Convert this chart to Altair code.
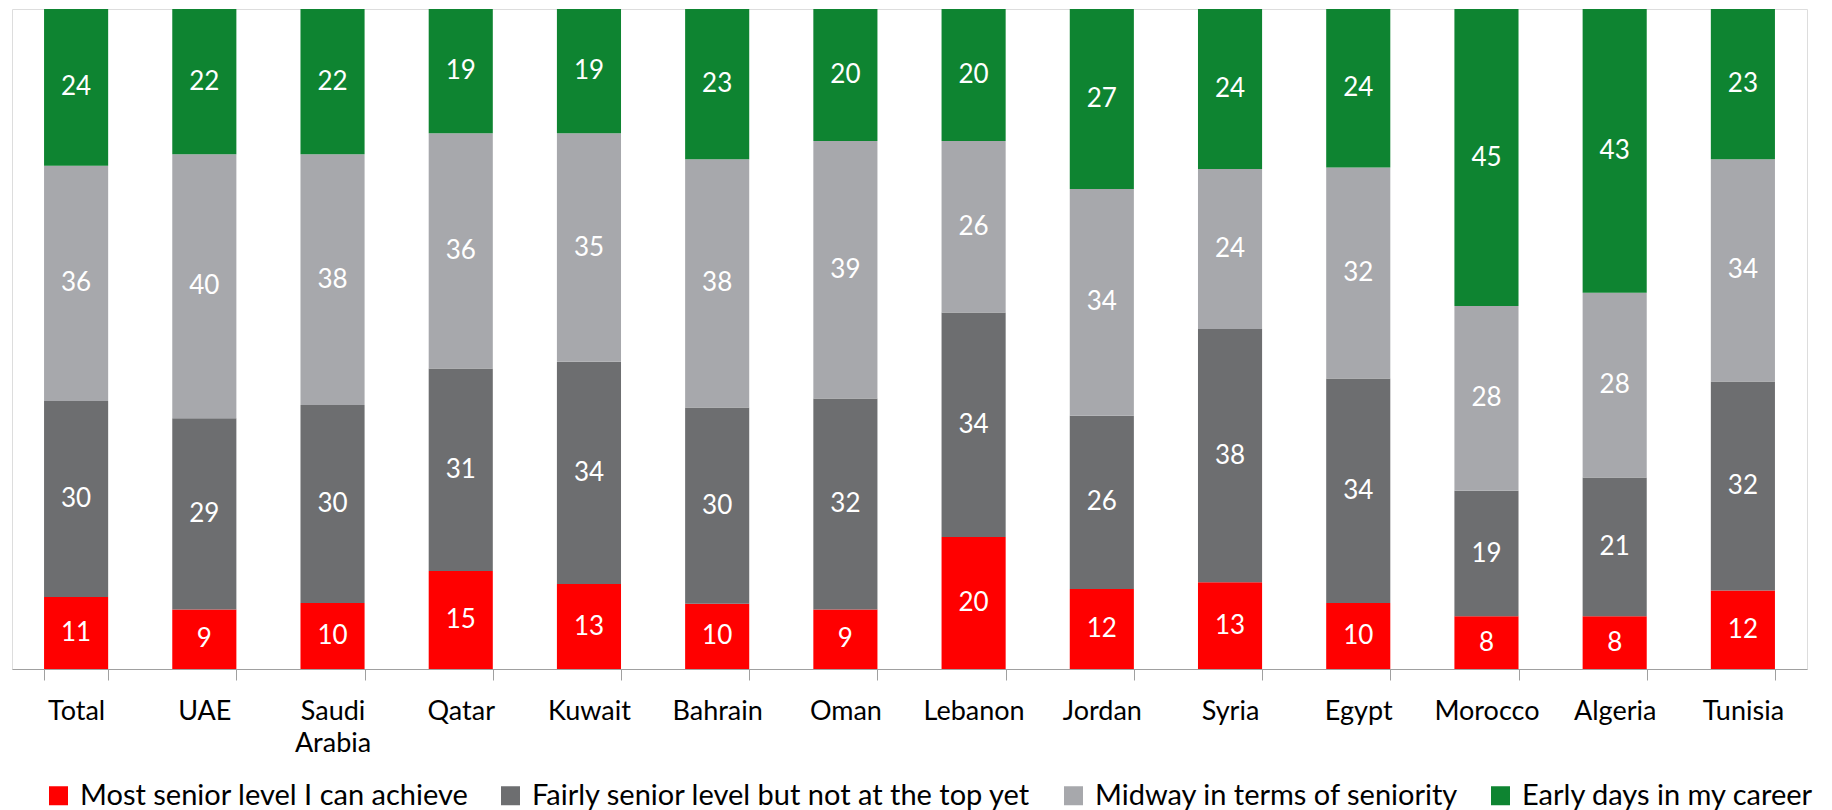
import altair as alt
import pandas as pd

countries = ["Total", "UAE", "Saudi Arabia", "Qatar", "Kuwait", "Bahrain", "Oman",
             "Lebanon", "Jordan", "Syria", "Egypt", "Morocco", "Algeria", "Tunisia"]
series = ["Most senior level I can achieve",
          "Fairly senior level but not at the top yet",
          "Midway in terms of seniority",
          "Early days in my career"]
most_senior = [11, 9, 10, 15, 13, 10, 9, 20, 12, 13, 10, 8, 8, 12]
fairly_senior = [30, 29, 30, 31, 34, 30, 32, 34, 26, 38, 34, 19, 21, 32]
midway = [36, 40, 38, 36, 35, 38, 39, 26, 34, 24, 32, 28, 28, 34]
early_days = [24, 22, 22, 19, 19, 23, 20, 20, 27, 24, 24, 45, 43, 23]
colors = ["#FF0000", "#6D6E70", "#A7A8AC", "#0E8431"]

rows = []
for s_i, (s, vals) in enumerate(zip(series, [most_senior, fairly_senior, midway, early_days])):
    for c, v in zip(countries, vals):
        rows.append({"country": c, "series": s, "order": s_i, "value": v})
df = pd.DataFrame(rows)

FONT = "Lato"

base = alt.Chart(df).transform_stack(
    stack="value", groupby=["country"], as_=["v0", "v1"],
    offset="normalize", sort=[alt.SortField("order", order="ascending")]
).transform_calculate(mid="(datum.v0 + datum.v1) / 2")

x = alt.X("country:N", sort=countries, title=None,
          scale=alt.Scale(paddingInner=0.5, paddingOuter=0.25),
          axis=alt.Axis(labelAngle=0, labelFontSize=27, labelFont=FONT, labelColor="#000000",
                        tickBand="extent", tickSize=11, tickColor="#A0A0A0",
                        domainColor="#A0A0A0", labelPadding=18,
                        labelExpr="datum.value == 'Saudi Arabia' ? ['Saudi', 'Arabia'] : datum.value",
                        labelLineHeight=32))

bars = base.mark_bar().encode(
    x=x,
    y=alt.Y("v0:Q", scale=alt.Scale(domain=[0, 1]), axis=None),
    y2="v1:Q",
    color=alt.Color("series:N", sort=series,
                    scale=alt.Scale(domain=series, range=colors),
                    legend=alt.Legend(orient="none", legendX=32, legendY=772,
                                      direction="horizontal", title=None,
                                      symbolType="square", symbolSize=361, symbolStrokeWidth=0,
                                      symbolOffset=0, labelOffset=7,
                                      labelFontSize=29, labelFont=FONT, labelColor="#000000",
                                      columnPadding=27, labelLimit=800)),
    order=alt.Order("order:Q"),
)

labels = base.mark_text(color="white", fontSize=26, font=FONT, baseline="middle").encode(
    x=alt.X("country:N", sort=countries),
    y=alt.Y("mid:Q", scale=alt.Scale(domain=[0, 1])),
    text=alt.Text("value:Q"),
)

chart = alt.layer(bars, labels).properties(
    width=1795, height=660,
    padding={"left": 4, "top": 1, "right": 0, "bottom": 0}
).configure_view(stroke=None).configure(background="white")

chart.save("out.html", embed_options={"renderer": "svg", "actions": False})
